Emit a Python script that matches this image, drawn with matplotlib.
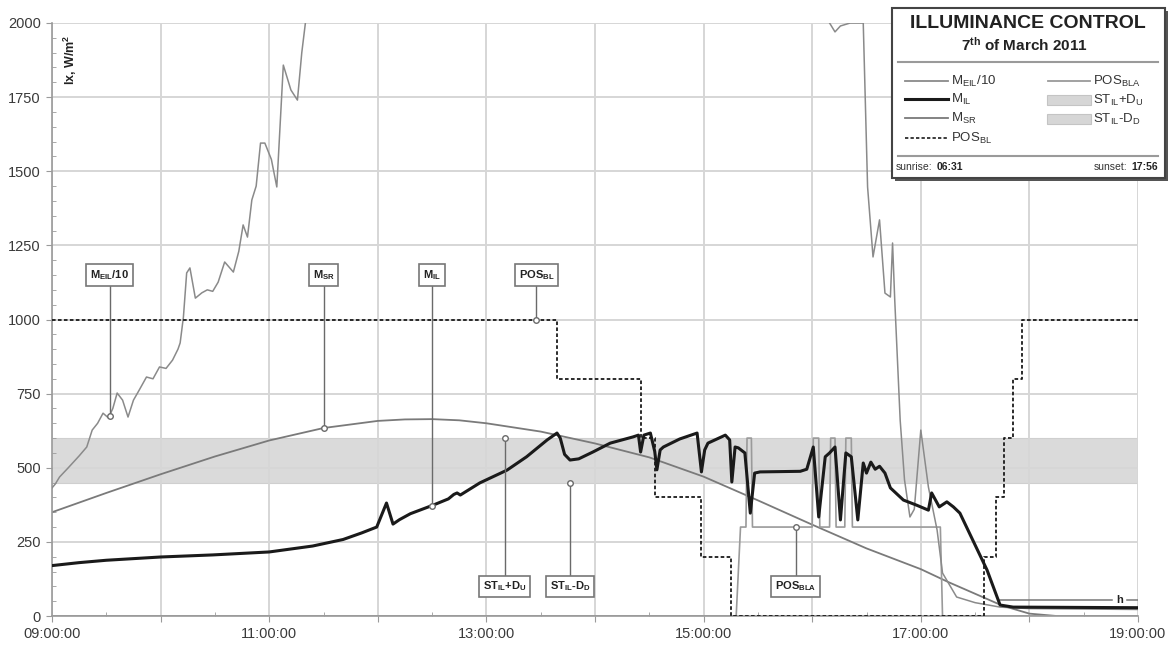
import numpy as np
import matplotlib.pyplot as plt
from matplotlib.patches import Rectangle
from matplotlib.lines import Line2D
from matplotlib.ticker import MultipleLocator, FuncFormatter

plt.rcParams["font.family"] = ["Liberation Sans", "DejaVu Sans"]
plt.rcParams["mathtext.default"] = "regular"

# ==================================
# DATA (time in decimal hours)
# ==================================

# external illuminance / 10
EIL_T = [9.00, 9.03, 9.07, 9.15, 9.25, 9.32, 9.37, 9.42, 9.47, 9.52, 9.56,
         9.60, 9.65, 9.70, 9.75, 9.80, 9.87, 9.93, 9.99, 10.05, 10.11, 10.16,
         10.18, 10.21, 10.24, 10.27, 10.32, 10.38, 10.43, 10.48, 10.53, 10.59,
         10.67, 10.72, 10.76, 10.80, 10.84, 10.88, 10.92, 10.96, 11.02, 11.07,
         11.13, 11.20, 11.26, 11.30, 11.35, 11.50, 16.00, 16.16, 16.21, 16.26,
         16.35, 16.47, 16.51, 16.56, 16.62, 16.67, 16.72, 16.74, 16.76, 16.81,
         16.85, 16.90, 16.94, 17.00, 17.07, 17.15, 17.20, 17.33, 17.50, 17.73,
         18.00, 19.00]
EIL_V = [432, 445, 469, 500, 540, 570, 627, 650, 684, 668, 700,
         752, 728, 671, 728, 760, 806, 800, 840, 835, 863, 900,
         921, 1008, 1157, 1174, 1072, 1090, 1100, 1095, 1126, 1194,
         1160, 1230, 1319, 1278, 1403, 1450, 1595, 1595, 1540, 1447,
         1858, 1774, 1740, 1900, 2050, 2300, 2300, 2000, 1970, 1990,
         2000, 2000, 1447, 1211, 1336, 1089, 1076, 1258, 1066, 661,
         459, 334, 360, 627, 435, 290, 145, 64, 45, 30,
         25, 22]

# internal illuminance
IL_T = [9.00, 9.25, 9.50, 10.00, 10.48, 11.00, 11.40, 11.68, 11.85, 11.99,
        12.08, 12.14, 12.20, 12.30, 12.51, 12.65, 12.70, 12.73, 12.76, 12.94,
        13.19, 13.37, 13.56, 13.65, 13.68, 13.72, 13.77, 13.85, 13.98, 14.14,
        14.35, 14.40, 14.42, 14.45, 14.51, 14.55, 14.57, 14.60, 14.63, 14.78,
        14.94, 14.98, 15.01, 15.04, 15.20, 15.24, 15.26, 15.29, 15.32, 15.38,
        15.43, 15.47, 15.52, 15.89, 15.95, 16.01, 16.06, 16.12, 16.16, 16.21,
        16.26, 16.31, 16.36, 16.42, 16.47, 16.50, 16.54, 16.58, 16.62, 16.67,
        16.72, 16.84, 16.96, 17.07, 17.10, 17.17, 17.24, 17.30, 17.36, 17.61,
        17.73, 17.85, 19.00]
IL_V = [170, 180, 188, 199, 206, 216, 236, 258, 280, 300,
        381, 310, 325, 345, 374, 395, 410, 415, 408, 449,
        492, 537, 594, 617, 600, 545, 526, 530, 553, 583,
        604, 610, 553, 610, 617, 555, 493, 560, 570, 597,
        617, 486, 560, 583, 610, 594, 452, 570, 567, 550,
        347, 482, 486, 488, 495, 570, 334, 537, 550, 570,
        324, 550, 537, 324, 516, 482, 519, 495, 505, 482,
        432, 391, 374, 357, 415, 368, 385, 368, 347, 155,
        37, 30, 28]

# solar radiation
SR_T = [9.0, 9.5, 10.0, 10.5, 11.0, 11.5, 12.0, 12.25, 12.5, 12.75, 13.0,
        13.5, 14.0, 14.5, 15.0, 15.5, 16.0, 16.5, 17.0, 17.25, 17.5, 17.75,
        18.0, 18.25, 19.0]
SR_V = [350, 415, 478, 538, 592, 634, 658, 663, 664, 660, 650,
        622, 582, 535, 470, 390, 308, 228, 158, 115, 75, 35,
        8, 0, 0]

# blind position (step values)
BL_T = [9.0, 13.65, 14.42, 14.55, 14.98, 15.25, 17.58, 17.69, 17.77, 17.85,
        17.93, 19.0]
BL_V = [1000, 800, 600, 400, 200, 0, 200, 400, 600, 800, 1000, 1000]

# blind angle position
BLA_T = [9.0, 15.30, 15.34, 15.39, 15.40, 15.44, 15.45, 16.00, 16.01, 16.06,
         16.07, 16.16, 16.17, 16.21, 16.22, 16.30, 16.31, 16.36, 16.37, 17.18,
         17.20, 19.0]
BLA_V = [0, 0, 300, 300, 600, 600, 300, 300, 600, 600,
         300, 300, 600, 600, 300, 300, 600, 600, 300, 300,
         0, 0]

ST_IL = 525
D_U = 75
D_D = 75
H_LEVEL = 55

SUNRISE = "06:31"
SUNSET = "17:56"

W, H = 1172, 646


def px(x, y):
    # pixel position (top-left origin) -> figure fraction
    return x / W, 1 - y / H


def time_label(x, pos):
    h = int(round(x))
    if h % 2 == 0:
        return ""
    return f"{h:02d}:00:00"


def callout(ax, t, series_t, series_v, label, label_v, value=None):
    v = np.interp(t, series_t, series_v) if value is None else value
    ax.plot([t, t], [v, label_v], color="#6a6a6a", lw=1, zorder=5)
    ax.plot(t, v, "o", ms=4, mfc="white", mec="#6a6a6a", mew=1, zorder=6)
    ax.text(
        t, label_v, label,
        ha="center", va="center",
        fontsize=8, weight="bold", color="#222222", zorder=7,
        bbox=dict(boxstyle="square,pad=0.35", fc="white", ec="#777777", lw=1.2)
    )


fig = plt.figure(figsize=(W / 100, H / 100), dpi=100)
ax = fig.add_axes([52 / W, 1 - 616 / H, (1138 - 52) / W, (616 - 23) / H])

# ==================================
# BAND + SERIES
# ==================================

ax.fill_between([9, 19], ST_IL, ST_IL + D_U, color="#dadada", lw=0, zorder=0.4)
ax.fill_between([9, 19], ST_IL - D_D, ST_IL, color="#dadada", lw=0, zorder=0.4)
ax.axhline(ST_IL + D_U, color="#cfcfcf", lw=0.8, zorder=0.45)
ax.axhline(ST_IL - D_D, color="#cfcfcf", lw=0.8, zorder=0.45)

ax.plot(SR_T, SR_V, color="#7a7a7a", lw=1.3, zorder=2)
ax.plot(BLA_T, BLA_V, color="#9a9a9a", lw=1.2, zorder=2)
ax.plot(EIL_T, EIL_V, color="#8a8a8a", lw=1.1, zorder=3)
ax.step(BL_T, BL_V, where="post", color="#1a1a1a", lw=1.3,
        linestyle=(0, (2, 1.3)), zorder=3)
ax.plot(IL_T, IL_V, color="#1a1a1a", lw=2.2, zorder=4)

# h threshold
ax.plot([17.73, 18.76], [H_LEVEL, H_LEVEL], color="#777777", lw=1.1, zorder=3)
ax.plot([18.90, 19.0], [H_LEVEL, H_LEVEL], color="#777777", lw=1.1, zorder=3)
ax.text(18.83, H_LEVEL, "h", ha="center", va="center", fontsize=8,
        weight="bold", color="#222222")

# ==================================
# CALLOUTS
# ==================================

callout(ax, 9.53, EIL_T, EIL_V, "M$_{EIL}$/10", 1150)
callout(ax, 11.5, SR_T, SR_V, "M$_{SR}$", 1150)
callout(ax, 12.5, IL_T, IL_V, "M$_{IL}$", 1150)
callout(ax, 13.46, BL_T, BL_V, "POS$_{BL}$", 1150, value=BL_V[0])
callout(ax, 13.17, None, None, "ST$_{IL}$+D$_U$", 100, value=ST_IL + D_U)
callout(ax, 13.77, None, None, "ST$_{IL}$-D$_D$", 100, value=ST_IL - D_D)
callout(ax, 15.85, BLA_T, BLA_V, "POS$_{BLA}$", 100, value=BLA_V[2])

# ==================================
# AXES
# ==================================

ax.set_xlim(9, 19)
ax.set_ylim(0, 2000)
ax.xaxis.set_major_locator(MultipleLocator(1))
ax.xaxis.set_minor_locator(MultipleLocator(0.5))
ax.xaxis.set_major_formatter(FuncFormatter(time_label))
ax.yaxis.set_major_locator(MultipleLocator(250))
ax.yaxis.set_minor_locator(MultipleLocator(50))

ax.set_axisbelow(True)
ax.grid(True, which="major", color="#d6d6d6", lw=1.4)

for side in ["top", "right"]:
    ax.spines[side].set_visible(False)
for side in ["left", "bottom"]:
    ax.spines[side].set_color("#9a9a9a")
    ax.spines[side].set_linewidth(1.2)

ax.tick_params(which="major", direction="out", length=4, color="#9a9a9a",
               labelsize=10.5, labelcolor="#3a3a3a", pad=4)
ax.tick_params(which="minor", direction="in", length=3, color="#9a9a9a")

ax.text(0.017, 0.938, "lx, W/m$^2$", transform=ax.transAxes, rotation=90,
        ha="center", va="center", fontsize=9, weight="bold", color="#222222")

# ==================================
# LEGEND BOX
# ==================================

x0, y0 = px(892, 178)
x1, y1 = px(1165, 8)
sx, sy = 3 / W, 3 / H
fig.add_artist(Rectangle((x0 + sx, y0 - sy), x1 - x0, y1 - y0,
                         transform=fig.transFigure, fc="#555555", ec="none",
                         zorder=9))
fig.add_artist(Rectangle((x0, y0), x1 - x0, y1 - y0,
                         transform=fig.transFigure, fc="white", ec="#444444",
                         lw=1.5, zorder=10))

fig.text(*px(1028, 23), "ILLUMINANCE CONTROL", ha="center", va="center",
         fontsize=14, weight="bold", color="#222222", zorder=11)
fig.text(*px(1024, 45), "7$^{th}$ of March 2011", ha="center", va="center",
         fontsize=11, weight="bold", color="#222222", zorder=11)

for sep_y in [62, 156]:
    fig.add_artist(Line2D([898 / W, 1158 / W], [1 - sep_y / H] * 2,
                          transform=fig.transFigure, color="#9a9a9a", lw=1.5,
                          zorder=11))

left_rows = [
    ("M$_{EIL}$/10", "#8a8a8a", 1.3, "-"),
    ("M$_{IL}$", "#1a1a1a", 2.2, "-"),
    ("M$_{SR}$", "#7a7a7a", 1.3, "-"),
    ("POS$_{BL}$", "#1a1a1a", 1.2, (0, (2, 1.3))),
]
row_y = [81, 99, 118, 138]
for (label, col, lw, ls), ry in zip(left_rows, row_y):
    fig.add_artist(Line2D([905 / W, 948 / W], [1 - ry / H] * 2,
                          transform=fig.transFigure, color=col, lw=lw,
                          linestyle=ls, zorder=11))
    fig.text(*px(951, ry), label, ha="left", va="center", fontsize=9.5,
             color="#333333", zorder=11)

fig.add_artist(Line2D([1048 / W, 1090 / W], [1 - 81 / H] * 2,
                      transform=fig.transFigure, color="#9a9a9a", lw=1.3,
                      zorder=11))
fig.text(*px(1093, 81), "POS$_{BLA}$", ha="left", va="center", fontsize=9.5,
         color="#333333", zorder=11)
for label, ry in [("ST$_{IL}$+D$_U$", 100), ("ST$_{IL}$-D$_D$", 119)]:
    bx, by = px(1047, ry + 5)
    fig.add_artist(Rectangle((bx, by), 44 / W, 10 / H,
                             transform=fig.transFigure, fc="#d6d6d6",
                             ec="#c4c4c4", lw=0.8, zorder=11))
    fig.text(*px(1093, ry), label, ha="left", va="center", fontsize=9.5,
             color="#333333", zorder=11)

# sunrise / sunset footer, bold time placed next to its measured label
rise = fig.text(*px(896, 167), "sunrise:", ha="left", va="center",
                fontsize=7.5, color="#333333", zorder=11)
sset = fig.text(*px(1158, 167), SUNSET, ha="right", va="center",
                fontsize=7.5, weight="bold", color="#222222", zorder=11)
fig.canvas.draw()
rb = rise.get_window_extent()
sb = sset.get_window_extent()
fig.text((rb.x1 + 4) / W, 1 - 167 / H, SUNRISE, ha="left", va="center",
         fontsize=7.5, weight="bold", color="#222222", zorder=11)
fig.text((sb.x0 - 4) / W, 1 - 167 / H, "sunset:", ha="right", va="center",
         fontsize=7.5, color="#333333", zorder=11)

fig.savefig("out.png", dpi=100)
plt.close(fig)
